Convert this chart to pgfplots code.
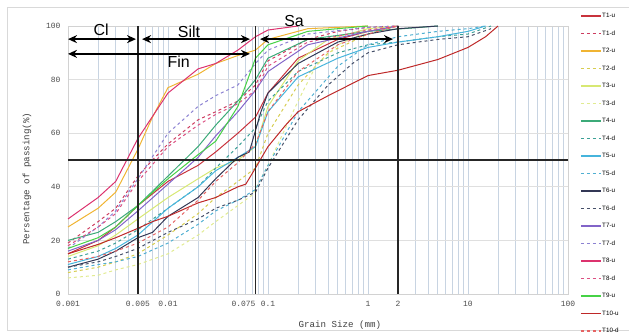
\documentclass[border=0pt]{standalone}
\usepackage{pgfplots}
\pgfplotsset{compat=1.18}
\usepackage{fontspec}
\setmainfont{Liberation Sans}
\setmonofont{Liberation Mono}
\usetikzlibrary{arrows.meta}
\definecolor{gridc}{RGB}{200,212,226}
\definecolor{T1u}{RGB}{200,50,60}
\definecolor{T1d}{RGB}{205,60,95}
\definecolor{T2u}{RGB}{240,180,50}
\definecolor{T2d}{RGB}{215,205,80}
\definecolor{T3u}{RGB}{215,232,115}
\definecolor{T3d}{RGB}{225,235,145}
\definecolor{T4u}{RGB}{60,170,120}
\definecolor{T4d}{RGB}{60,160,150}
\definecolor{T5u}{RGB}{70,180,220}
\definecolor{T5d}{RGB}{80,175,210}
\definecolor{T6u}{RGB}{50,55,85}
\definecolor{T6d}{RGB}{70,80,105}
\definecolor{T7u}{RGB}{130,100,200}
\definecolor{T7d}{RGB}{140,130,210}
\definecolor{T8u}{RGB}{220,50,110}
\definecolor{T8d}{RGB}{220,80,130}
\definecolor{T9u}{RGB}{70,210,70}
\definecolor{T10u}{RGB}{190,40,40}
\definecolor{T10d}{RGB}{230,100,100}
\begin{document}
\begin{tikzpicture}
\useasboundingbox (-68bp,-42bp) rectangle (561bp,294bp);
\draw[gray!30, line width=0.8bp] (-61bp,-36bp) rectangle (566bp,287bp);
\begin{axis}[
  at={(0,0)}, anchor=south west,
  scale only axis, width=500bp, height=268bp,
  xmode=log, xmin=0.001, xmax=100, ymin=0, ymax=100,
  xtick={0.001,0.01,0.1,1,10,100},
  xticklabels={0.001,0.01,0.1,1,10,100},
  extra x ticks={0.005,0.075,2},
  extra x tick labels={0.005,\llap{0.075},2},
  extra x tick style={grid=none},
  minor xtick={0.002,0.003,0.004,0.005,0.006,0.007,0.008,0.009,0.02,0.03,0.04,0.05,0.06,0.07,0.08,0.09,0.2,0.3,0.4,0.5,0.6,0.7,0.8,0.9,2,3,4,5,6,7,8,9,20,30,40,50,60,70,80,90},
  ytick={0,20,40,60,80,100},
  xmajorgrids, xminorgrids, ymajorgrids,
  major grid style={gridc, line width=0.8bp},
  minor grid style={gridc, line width=0.8bp},
  y grid style={gray!25, line width=0.8bp},
  major tick length=0pt, minor tick length=0pt,
  axis line style={gray!35},
  /pgf/number format/assume math mode=true,
  ticklabel style={font=\ttfamily\fontsize{8}{8}\selectfont, text=black!70},
  xticklabel style={yshift=-4bp},
  yticklabel style={xshift=-4bp},
  xlabel={Grain Size (mm)},
  ylabel={Persentage of passing(\%)},
  label style={font=\ttfamily\fontsize{9.2}{9.2}\selectfont, text=black!75},
  xlabel style={at={(axis description cs:0.544,-0.116)}, anchor=center},
  ylabel style={at={(axis description cs:-0.082,0.43)}, anchor=center},
  clip=false,
  legend cell align=left,
  legend style={at={(axis description cs:1.024,1.05)}, anchor=north west,
    draw=none, fill=none, font=\fontsize{6.3}{6.3}\selectfont,
    row sep=11bp, inner sep=0pt,
    nodes={inner sep=0.5bp, text height=4.5bp, text depth=1bp}},
  legend image code/.code={\draw[#1, line width=1.5bp] (0bp,0bp) -- (20bp,0bp);},
  every axis plot/.append style={line width=1bp},
]
\addplot[T1u] coordinates {(0.001,15)(0.002,20)(0.003,25)(0.005,33)(0.01,42)(0.02,48)(0.03,53)(0.05,60)(0.075,66)(0.1,75)(0.2,88)(0.5,95)(1,98)(2,100)};
\addlegendentry{T1-u}
\addplot[T1d, dashed] coordinates {(0.001,19)(0.002,27)(0.003,32)(0.005,44)(0.007,50)(0.01,56)(0.02,65)(0.03,68)(0.05,72)(0.075,78)(0.1,87)(0.25,95)(0.5,98)(1,99.5)(2,100)};
\addlegendentry{T1-d}
\addplot[T2u] coordinates {(0.001,25)(0.002,32)(0.003,38)(0.005,54)(0.007,66)(0.01,77)(0.02,82)(0.03,86)(0.05,89)(0.075,91)(0.1,95)(0.25,99)(1,100)};
\addlegendentry{T2-u}
\addplot[T2d, dashed] coordinates {(0.001,8)(0.002,10)(0.003,12)(0.005,15)(0.01,22)(0.02,30)(0.03,36)(0.05,42)(0.075,47)(0.1,60)(0.2,78)(0.4,90)(1,97)(2,100)};
\addlegendentry{T2-d}
\addplot[T3u] coordinates {(0.001,14)(0.002,18)(0.003,22)(0.005,28)(0.01,36)(0.02,43)(0.03,47)(0.05,50)(0.075,55)(0.1,70)(0.2,87)(0.4,95)(1,99)(2,100)};
\addlegendentry{T3-u}
\addplot[T3d, dashed] coordinates {(0.001,6)(0.002,7)(0.003,9)(0.005,11)(0.01,15)(0.02,22)(0.03,27)(0.05,33)(0.07,37)(0.1,48)(0.2,72)(0.3,85)(0.5,93)(1,98)(2,100)};
\addlegendentry{T3-d}
\addplot[T4u] coordinates {(0.001,20)(0.002,23)(0.003,27)(0.005,33)(0.01,44)(0.02,55)(0.03,63)(0.05,72)(0.075,80)(0.1,88)(0.25,95)(1,98)(5,100)};
\addlegendentry{T4-u}
\addplot[T4d, dashed] coordinates {(0.001,13)(0.002,16)(0.003,19)(0.005,24)(0.01,32)(0.02,40)(0.03,47)(0.05,55)(0.075,62)(0.1,72)(0.2,83)(0.5,90)(1,93)(2,94)(5,96)(10,97)(17,100)};
\addlegendentry{T4-d}
\addplot[T5u] coordinates {(0.001,11)(0.002,14)(0.003,17)(0.005,22)(0.01,32)(0.02,40)(0.03,46)(0.05,51)(0.075,55)(0.1,68)(0.2,81)(0.5,88)(1,92)(2,94)(5,96)(10,98)(15,100)};
\addlegendentry{T5-u}
\addplot[T5d, dashed] coordinates {(0.001,9)(0.002,11)(0.003,12)(0.005,14)(0.01,19)(0.02,26)(0.03,31)(0.05,35)(0.075,39)(0.1,48)(0.2,68)(0.5,85)(1,93)(2,96)(5,98)(10,99)(15,100)};
\addlegendentry{T5-d}
\addplot[T6u] coordinates {(0.001,10)(0.002,13)(0.003,16)(0.005,21)(0.007,23)(0.01,29)(0.02,36)(0.03,43)(0.05,51)(0.065,53)(0.085,68)(0.1,75)(0.2,86)(0.5,94)(1,97)(2,99)(5,100)};
\addlegendentry{T6-u}
\addplot[T6d, dashed] coordinates {(0.001,10)(0.002,12)(0.003,14)(0.005,17)(0.01,23)(0.02,28)(0.03,32)(0.05,35)(0.075,38)(0.1,47)(0.2,65)(0.4,78)(0.7,86)(1,90)(2,93)(5,95)(10,96)(17,99)};
\addlegendentry{T6-d}
\addplot[T7u] coordinates {(0.001,16)(0.002,20)(0.003,24)(0.005,31)(0.01,41)(0.02,51)(0.03,59)(0.05,68)(0.075,76)(0.1,83)(0.25,93)(1,98)(2,100)};
\addlegendentry{T7-u}
\addplot[T7d, dashed] coordinates {(0.001,17)(0.002,25)(0.003,31)(0.005,43)(0.01,60)(0.02,70)(0.03,74)(0.05,78)(0.075,86)(0.1,91)(0.25,97)(1,99.5)(2,100)};
\addlegendentry{T7-d}
\addplot[T8u] coordinates {(0.001,28)(0.002,36)(0.003,42)(0.005,58)(0.01,75)(0.02,84)(0.03,86)(0.05,91)(0.075,96)(0.1,98.5)(0.2,100)};
\addlegendentry{T8-u}
\addplot[T8d, dashed] coordinates {(0.001,18)(0.002,25)(0.003,30)(0.005,42)(0.01,55)(0.02,63)(0.03,67)(0.05,71)(0.075,76)(0.1,85)(0.25,94)(1,98.5)(2,100)};
\addlegendentry{T8-d}
\addplot[T9u] coordinates {(0.001,17)(0.002,21)(0.003,25)(0.005,33)(0.01,43)(0.02,52)(0.03,57)(0.05,70)(0.075,88)(0.1,93)(0.25,98)(1,100)};
\addlegendentry{T9-u}
\addplot[T10u] coordinates {(0.001,15)(0.002,18.5)(0.003,21)(0.005,24.5)(0.007,27)(0.01,29)(0.02,34)(0.03,36)(0.05,40)(0.06,41)(0.075,47)(0.1,55)(0.15,63)(0.2,68)(0.4,74)(1,81.5)(2,83.5)(5,87.5)(10,92)(15,96)(20,100)};
\addlegendentry{T10-u}
\addplot[T10d, dashed] coordinates {(0.001,12)(0.002,14)(0.003,16)(0.005,19)(0.01,25)(0.02,35)(0.03,42)(0.05,49)(0.075,56)(0.1,68)(0.2,83)(0.5,93)(1,97)(2,100)};
\addlegendentry{T10-d}
% reference lines
\draw[black!85, line width=1.3bp] (axis cs:0.001,50) -- (axis cs:100,50);
\draw[black!85, line width=1.3bp] (axis cs:0.005,0) -- (axis cs:0.005,100);
\draw[black!85, line width=1.3bp] (axis cs:0.075,0) -- (axis cs:0.075,100);
\draw[black!85, line width=1.3bp] (axis cs:2,0) -- (axis cs:2,100);
% soil class arrows
\draw[{Stealth[length=9bp,width=8bp]}-{Stealth[length=9bp,width=8bp]}, line width=2.2bp] (axis cs:0.001,95.1) -- (axis cs:0.00479,95.1);
\draw[{Stealth[length=9bp,width=8bp]}-{Stealth[length=9bp,width=8bp]}, line width=2.2bp] (axis cs:0.0055,95.1) -- (axis cs:0.066,95.1);
\draw[{Stealth[length=9bp,width=8bp]}-{Stealth[length=9bp,width=8bp]}, line width=2.2bp] (axis cs:0.001,89.6) -- (axis cs:0.066,89.6);
\draw[{Stealth[length=9bp,width=8bp]}-{Stealth[length=9bp,width=8bp]}, line width=2.2bp] (axis cs:0.0832,95.1) -- (axis cs:1.78,95.1);
\node[font=\fontsize{16}{16}\selectfont, inner sep=0pt] at (axis cs:0.00214,98.5) {Cl};
\node[font=\fontsize{16}{16}\selectfont, inner sep=0pt] at (axis cs:0.0162,98) {Silt};
\node[font=\fontsize{16}{16}\selectfont, inner sep=0pt] at (axis cs:0.0128,86.5) {Fin};
\node[font=\fontsize{16}{16}\selectfont, inner sep=0pt] at (axis cs:0.182,102) {Sa};
\end{axis}
\end{tikzpicture}
\end{document}
